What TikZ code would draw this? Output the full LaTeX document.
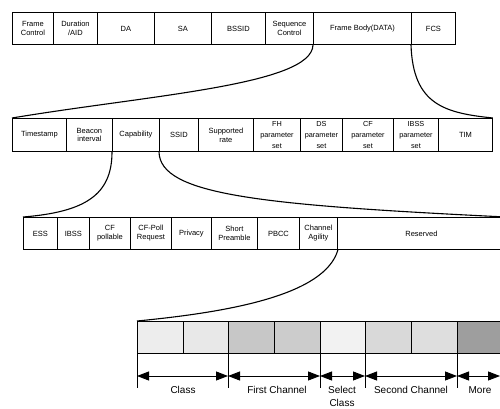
\documentclass[tikz,border=0pt]{standalone}
\usepackage{fontspec}
\setmainfont{Liberation Sans}
\usetikzlibrary{arrows.meta,calc}
\tikzset{
  cell/.style={draw=black, line width=0.9pt, anchor=north west, inner sep=0pt,
    align=center, font=\fontsize{7.5}{8.8}\selectfont},
  parcell/.style={cell, font=\fontsize{7.3}{11}\selectfont},
  dcell/.style={cell, line width=1.3pt},
  link/.style={line width=1.1pt},
  tick/.style={line width=0.8pt},
  dim/.style={line width=0.9pt, {Triangle[length=12pt,width=9pt]}-{Triangle[length=12pt,width=9pt]}},
  dimlabel/.style={font=\fontsize{10}{13}\selectfont, align=center, inner sep=0pt}
}
\begin{document}
\begin{tikzpicture}[x=1pt,y=-1pt]
\useasboundingbox (0,0) rectangle (500,409);
\begin{scope}
\clip (0,0) rectangle (500,409);
% Row 1
\node[cell, minimum width=41pt, minimum height=32pt] (fc) at (12,12) {Frame\\Control};
\node[cell, minimum width=44pt, minimum height=32pt] (dur) at (53,12) {Duration\\/AID};
\node[cell, minimum width=57pt, minimum height=32pt] (da) at (97,12) {DA};
\node[cell, minimum width=57pt, minimum height=32pt] (sa) at (154,12) {SA};
\node[cell, minimum width=54pt, minimum height=32pt] (bssid) at (211,12) {BSSID};
\node[cell, minimum width=48pt, minimum height=32pt] (seq) at (265,12) {Sequence\\Control};
\node[cell, minimum width=98pt, minimum height=32pt] (body) at (313,12) {Frame Body(DATA)};
\node[cell, minimum width=44pt, minimum height=32pt] (fcs) at (411,12) {FCS};
% Row 2
\node[cell, minimum width=54pt, minimum height=33pt] (ts) at (12,118) {Timestamp};
\node[cell, minimum width=46pt, minimum height=33pt] (bi) at (66,118) {Beacon\\interval};
\node[cell, minimum width=47pt, minimum height=33pt] (cap) at (112,118) {Capability};
\node[cell, minimum width=39pt, minimum height=33pt] (ssid) at (159,118) {SSID};
\node[cell, minimum width=55pt, minimum height=33pt] (sr) at (198,118) {Supported\\rate};
\node[parcell, minimum width=47pt, minimum height=33pt] (fh) at (253,118) {FH\\parameter\\set};
\node[parcell, minimum width=42pt, minimum height=33pt] (ds) at (300,118) {DS\\parameter\\set};
\node[parcell, minimum width=51pt, minimum height=33pt] (cf) at (342,118) {CF\\parameter\\set};
\node[parcell, minimum width=45pt, minimum height=33pt] (ibssp) at (393,118) {IBSS\\parameter\\set};
\node[cell, minimum width=54pt, minimum height=33pt] (tim) at (438,118) {TIM};
% Row 3
\node[cell, minimum width=34pt, minimum height=32pt] (ess) at (23,217) {ESS};
\node[cell, minimum width=32pt, minimum height=32pt] (ibss) at (57,217) {IBSS};
\node[cell, minimum width=41pt, minimum height=32pt] (cfp) at (89,217) {CF\\pollable};
\node[cell, minimum width=41pt, minimum height=32pt] (cfpr) at (130,217) {CF-Poll\\Request};
\node[cell, minimum width=40pt, minimum height=32pt] (priv) at (171,217) {Privacy};
\node[cell, minimum width=46pt, minimum height=32pt] (sp) at (211,217) {Short\\Preamble};
\node[cell, minimum width=42pt, minimum height=32pt] (pbcc) at (257,217) {PBCC};
\node[cell, minimum width=38pt, minimum height=32pt] (ca) at (299,217) {Channel\\Agility};
\node[cell, minimum width=168pt, minimum height=32pt] (res) at (337,217) {Reserved};
% Row 4
\node[dcell, fill=black!7, minimum width=46pt, minimum height=32pt] (c1) at (137,321) {};
\node[dcell, fill=black!9, minimum width=45pt, minimum height=32pt] (c2) at (183,321) {};
\node[dcell, fill=black!22, minimum width=46pt, minimum height=32pt] (c3) at (228,321) {};
\node[dcell, fill=black!20, minimum width=46pt, minimum height=32pt] (c4) at (274,321) {};
\node[dcell, fill=black!5, minimum width=45pt, minimum height=32pt] (c5) at (320,321) {};
\node[dcell, fill=black!15, minimum width=46pt, minimum height=32pt] (c6) at (365,321) {};
\node[dcell, fill=black!13, minimum width=46pt, minimum height=32pt] (c7) at (411,321) {};
\node[dcell, fill=black!38, minimum width=50pt, minimum height=32pt] (c8) at (457,321) {};
% Curved connectors
\draw[link] (body.south west) .. controls (312,85) and (150,95) .. (ts.north west);
\draw[link] (fcs.south west) .. controls (413,105) and (445,113) .. (tim.north east);
\draw[link] (cap.south west) .. controls (112,195) and (85,212) .. (ess.north west);
\draw[link] (ssid.south west) .. controls (160,195) and (260,205) .. (res.north east);
\draw[link] (ca.south east) .. controls (325,295) and (230,312) .. (c1.north west);
% Dimension ticks
\coordinate (t1) at ($(c1.south west)+(0,34)$);
\coordinate (t2) at ($(c3.south west)+(0,34)$);
\coordinate (t3) at ($(c5.south west)+(0,34)$);
\coordinate (t4) at ($(c6.south west)+(0,34)$);
\coordinate (t5) at ($(c8.south west)+(0,34)$);
\coordinate (t6) at (500,376);
\draw[tick] (c1.south west) -- (t1);
\draw[tick] (c3.south west) -- (t2);
\draw[tick] (c5.south west) -- (t3);
\draw[tick] (c6.south west) -- (t4);
\draw[tick] (c8.south west) -- (t5);
\draw[dim] (137,376) -- (228,376);
\draw[dim] (228,376) -- (320,376);
\draw[dim] (320,376) -- (365,376);
\draw[dim] (365,376) -- (457,376);
\draw[dim] (457,376) -- (t6);
% Labels
\node[dimlabel, anchor=north] (l1) at (183,386) {Class};
\node[dimlabel, anchor=north] (l2) at (277,386) {First Channel};
\node[dimlabel, anchor=north] (l3) at (342,386) {Select\\Class};
\node[dimlabel, anchor=north] (l4) at (411,386) {Second Channel};
\node[dimlabel, anchor=north] (l5) at (480,386) {More};
\end{scope}
\end{tikzpicture}
\end{document}
